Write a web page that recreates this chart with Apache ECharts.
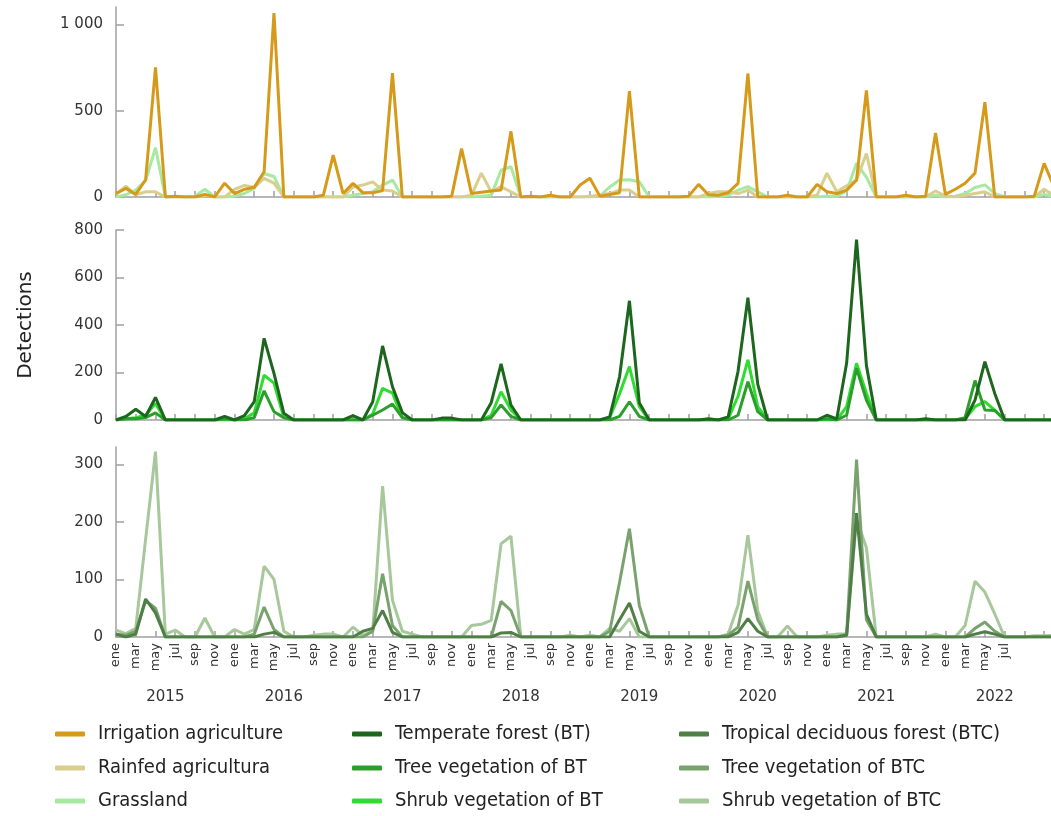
<!DOCTYPE html>
<html><head><meta charset="utf-8">
<script src="https://cdn.jsdelivr.net/npm/echarts@6/dist/echarts.min.js"></script>
<style>html,body{margin:0;padding:0;background:#fff}#c{width:1051px;height:816px}</style>
</head><body><div id="c"></div>
<script>
const monthNames = ['ene','feb','mar','abr','may','jun','jul','ago','sep','oct','nov','dic'];
const years = ['2015','2016','2017','2018','2019','2020','2021','2022'];
const months = [];
years.forEach(() => monthNames.forEach(m => months.push(m)));

const irrigation = [20,50,15,100,750,0,5,0,0,15,0,80,
 20,44,56,146,1065,0,0,0,0,10,242,20,
 79,25,25,37,717,0,0,0,0,0,5,280,
 20,28,35,40,380,0,5,0,10,0,0,69,
 108,5,15,25,613,0,0,0,0,0,5,73,
 13,10,25,79,715,0,0,0,10,0,0,73,
 30,20,40,98,617,0,0,0,10,0,5,370,
 15,45,80,138,549,0,0,0,0,5,195,60];
const rainfed = [15,63,13,30,30,0,0,0,0,10,0,0,
 44,67,56,108,80,0,0,0,0,0,0,0,
 58,69,88,40,35,0,0,0,0,0,0,0,
 10,138,30,60,30,0,0,0,0,0,0,0,
 5,10,20,40,40,0,0,0,0,0,0,0,
 20,30,30,20,40,0,0,0,0,0,0,10,
 138,30,65,98,252,0,0,0,0,0,0,35,
 5,0,10,20,30,0,0,0,0,0,45,10];
const grassland = [0,13,40,95,285,0,0,0,5,45,0,0,
 5,20,50,136,119,0,0,0,0,0,0,0,
 10,20,30,69,98,0,0,0,0,0,0,0,
 0,5,10,155,175,0,0,0,0,0,0,0,
 0,5,58,98,100,88,0,0,0,0,0,0,
 0,5,10,40,60,30,0,0,0,0,0,0,
 5,5,35,195,115,0,0,0,0,0,0,10,
 0,5,20,55,70,20,0,0,0,0,15,5];
const temperate = [0,15,45,15,95,0,0,0,0,0,0,15,
 0,18,77,344,196,28,0,0,0,0,0,0,
 18,0,77,312,140,31,0,0,0,8,8,0,
 0,0,73,236,63,0,0,0,0,0,0,0,
 0,0,13,182,502,73,0,0,0,0,0,0,
 5,0,13,205,515,150,0,0,0,0,0,0,
 20,5,240,760,230,0,0,0,0,0,5,0,
 0,0,0,84,246,112,0,0,0,0,0,0];
const treeBT = [0,5,5,10,30,0,0,0,0,0,0,5,
 0,0,10,123,35,10,0,0,0,0,0,0,
 0,0,20,42,67,10,0,0,0,0,0,0,
 0,0,10,63,15,0,0,0,0,0,0,0,
 0,0,0,15,77,15,0,0,0,0,0,0,
 0,0,0,20,161,35,0,0,0,0,0,0,
 5,0,20,218,84,0,0,0,0,0,0,0,
 0,0,10,166,42,40,0,0,0,0,0,0];
const shrubBT = [0,5,10,20,70,0,0,0,0,0,0,0,
 0,5,30,189,155,10,0,0,0,0,0,0,
 0,0,25,133,113,10,0,0,0,0,0,0,
 0,0,20,119,42,0,0,0,0,0,0,0,
 0,0,10,110,225,56,0,0,0,0,0,0,
 0,0,5,100,253,56,0,0,0,0,0,0,
 0,0,56,239,113,0,0,0,0,0,0,0,
 0,0,5,56,77,42,0,0,0,0,0,0];
const tropical = [5,0,5,66,42,0,0,0,0,0,0,0,
 0,0,0,5,8,0,0,0,0,0,0,0,
 0,10,15,46,8,0,0,0,0,0,0,0,
 0,0,0,7,8,0,0,0,0,0,0,0,
 0,0,0,30,59,10,0,0,0,0,0,0,
 0,0,0,8,32,10,0,0,0,0,0,0,
 0,0,3,215,40,0,0,0,0,0,0,0,
 0,0,0,5,9,5,0,0,0,0,0,0];
const treeBTC = [5,3,10,63,50,0,0,0,0,0,0,0,
 0,0,5,52,13,0,0,0,0,0,0,0,
 0,0,10,110,20,0,0,0,0,0,0,0,
 0,0,0,62,46,0,0,0,0,0,0,0,
 0,0,10,95,188,55,0,0,0,0,0,0,
 0,0,3,17,97,30,0,0,0,0,0,0,
 0,0,5,308,30,0,0,0,0,0,0,0,
 0,0,0,15,26,10,0,0,0,0,0,0];
const shrubBTC = [12,6,15,170,322,5,12,0,0,33,0,0,
 13,5,13,123,100,10,0,0,3,5,5,0,
 17,3,10,262,64,10,5,0,0,0,0,0,
 20,22,29,162,175,0,0,0,0,0,3,0,
 3,0,15,10,32,0,0,0,0,0,0,0,
 0,0,5,55,177,45,0,0,19,0,0,0,
 3,5,5,205,155,0,0,0,0,0,0,5,
 0,0,20,97,78,40,0,0,0,2,2,3];

const names = ['Irrigation agriculture','Rainfed agricultura','Grassland',
  'Temperate forest (BT)','Tree vegetation of BT','Shrub vegetation of BT',
  'Tropical deciduous forest (BTC)','Tree vegetation of BTC','Shrub vegetation of BTC'];
const colors = ['#d69a1a','#d8ce8e','#a6e9a0','#1d661d','#2b9f2b','#30dc30','#4f7f47','#7aa26e','#a6c89a'];
const datas = [irrigation, rainfed, grassland, temperate, treeBT, shrubBT, tropical, treeBTC, shrubBTC];

const FONT = "'DejaVu Sans', Verdana, sans-serif";
const LEGFONT = "'DejaVu Sans Condensed', 'Liberation Sans Narrow', 'DejaVu Sans', sans-serif";
const axisColor = '#a0a0a0';

const grids = [
  {left:116, right:-3, top:7, height:190, outerBoundsMode:'none'},
  {left:116, right:-3, top:230, height:190, outerBoundsMode:'none'},
  {left:116, right:-3, top:447, height:190, outerBoundsMode:'none'}
];
function xAx(g, showLabels){
  return {type:'category', gridIndex:g, data:months, boundaryGap:false,
    axisLine:{show:true, lineStyle:{color:axisColor, width:1.5}},
    axisTick:{show:true, inside:true, interval:1, length:6, lineStyle:{color:axisColor, width:1.5}},
    axisLabel:{show:showLabels, interval:(i)=> i%2===0 && i<=90, rotate:90, margin:6, fontFamily:FONT, fontSize:13, color:'#333'},
    splitLine:{show:false}};
}
const xAxes = [xAx(0,false), xAx(1,false), xAx(2,true),
  {type:'category', gridIndex:2, data:months, boundaryGap:false, position:'bottom',
   axisLine:{show:false}, axisTick:{show:false}, splitLine:{show:false},
   axisLabel:{show:true, interval:(i)=> i%12===5, margin:53, fontFamily:FONT, fontSize:15, color:'#333',
     formatter:(v,i)=> years[Math.floor(i/12)]}}];
function yAx(g, max, ticks, extra){
  return Object.assign({type:'value', gridIndex:g, min:0, max:max,
    axisLine:{show:true, lineStyle:{color:axisColor, width:1.5}},
    axisTick:{show:true, inside:true, length:8, customValues:ticks, lineStyle:{color:axisColor, width:1.5}},
    axisLabel:{show:true, customValues:ticks, margin:13, fontFamily:FONT, fontSize:15, color:'#333',
      formatter:(v)=> v>=1000 ? String(v).replace(/\B(?=(\d{3})+(?!\d))/g,' ') : String(v)},
    splitLine:{show:false}}, extra||{});
}
const yAxes = [yAx(0,1100,[0,500,1000]), yAx(1,800,[0,200,400,600,800],
  {name:'Detections', nameLocation:'middle', nameRotate:90, nameGap:80,
   nameTextStyle:{fontFamily:FONT, fontSize:20, color:'#222'}}), yAx(2,330,[0,100,200,300])];

const series = datas.map((d,k)=>({name:names[k], type:'line', xAxisIndex:Math.floor(k/3), yAxisIndex:Math.floor(k/3),
  data:d, showSymbol:false, symbol:'none', lineStyle:{width:3, color:colors[k]}, itemStyle:{color:colors[k]},
  emphasis:{disabled:true}, z: 10 - (k%3)}));

const legendLefts = [55,352,679];
const legendTops = [724,758,791];
const legends = names.map((n,k)=>({orient:'horizontal', left:legendLefts[Math.floor(k/3)], top:legendTops[k%3],
  icon:'roundRect', itemWidth:30, itemHeight:5, selectedMode:false, padding:0, data:[n],
  textStyle:{fontFamily:LEGFONT, fontSize:20, color:'#222', padding:[0,0,0,8]}}));

const chart = echarts.init(document.getElementById('c'), null, {renderer:'canvas'});
chart.setOption({animation:false, backgroundColor:'#fff', grid:grids, xAxis:xAxes, yAxis:yAxes, series:series, legend:legends});
</script></body></html>
